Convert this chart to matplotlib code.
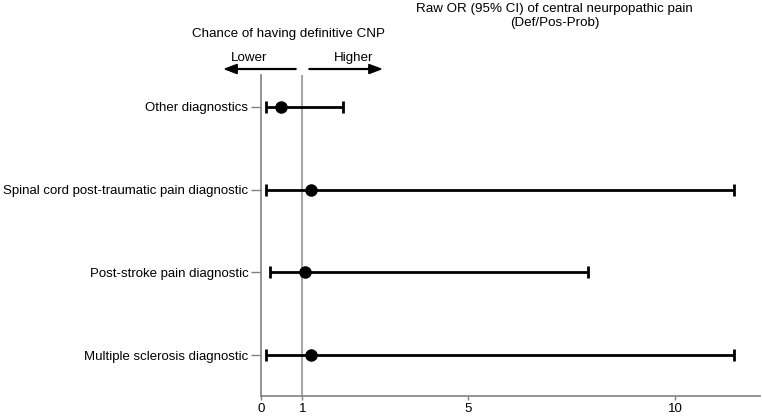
import matplotlib.pyplot as plt
from matplotlib.patches import FancyArrow
import numpy as np

plt.rcParams["font.family"] = ["Liberation Sans", "DejaVu Sans"]

labels = [
    "Other diagnostics",
    "Spinal cord post-traumatic pain diagnostic",
    "Post-stroke pain diagnostic",
    "Multiple sclerosis diagnostic",
]
odds = [0.48, 1.21, 1.06, 1.21]
ci_low = [0.12, 0.12, 0.22, 0.12]
ci_high = [1.98, 11.43, 7.9, 11.43]
xticks = [0, 1, 5, 10]

fig = plt.figure(figsize=(7.62, 4.17), dpi=100)
ax = fig.add_axes([0.3425, 0.0504, 0.655, 0.7698])

y = np.arange(len(labels))
odds = np.array(odds)
err = [odds - np.array(ci_low), np.array(ci_high) - odds]
ax.errorbar(odds, y, xerr=err, fmt="o", color="black", ms=8, lw=2,
            capsize=4, capthick=2, zorder=3)
ax.axvline(1, color="#a8a8a8", lw=1.5, zorder=1)

ax.set_xlim(0, 12.05)
ax.set_ylim(3.488, -0.38)
ax.set_yticks(y)
ax.set_yticklabels(labels, fontsize=9.5)
ax.set_xticks(xticks)
ax.set_xticklabels([str(t) for t in xticks], fontsize=9.6)
ax.tick_params(axis="y", length=7, pad=2, color="#808080", width=1)
ax.tick_params(axis="x", length=3, pad=2, color="#808080", width=1)
for s in ["top", "right"]:
    ax.spines[s].set_visible(False)
for s in ["left", "bottom"]:
    ax.spines[s].set_color("#808080")
    ax.spines[s].set_linewidth(1.2)

fig.text(0.728, 0.993, "Raw OR (95% CI) of central neurpopathic pain\n(Def/Pos-Prob)",
         ha="center", va="top", fontsize=9.6)
fig.text(0.378, 0.918, "Chance of having definitive CNP", ha="center", va="center", fontsize=9.6)
fig.text(0.327, 0.862, "Lower", ha="center", va="center", fontsize=9.6)
fig.text(0.4646, 0.862, "Higher", ha="center", va="center", fontsize=9.6)
fig.patches.append(FancyArrow(
    0.3885, 0.8345, -0.0932, 0, width=0.002, head_width=0.022, head_length=0.016,
    length_includes_head=True, color="black", transform=fig.transFigure, figure=fig))
fig.patches.append(FancyArrow(
    0.4055, 0.8345, 0.0945, 0, width=0.002, head_width=0.022, head_length=0.016,
    length_includes_head=True, color="black", transform=fig.transFigure, figure=fig))

fig.savefig("out.png", dpi=100)
